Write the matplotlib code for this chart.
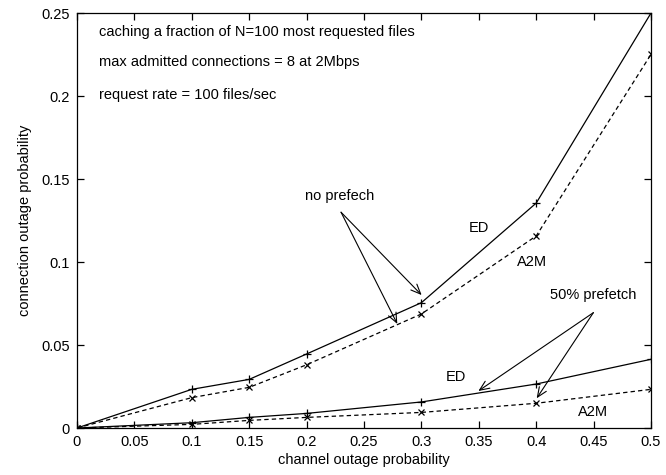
import matplotlib
matplotlib.use('Agg')
import matplotlib.pyplot as plt
from matplotlib.ticker import FuncFormatter, MultipleLocator

plt.rcParams['font.family'] = ['Liberation Sans', 'DejaVu Sans']

# channel outage probability
p_chan = [0, 0.1, 0.15, 0.2, 0.3, 0.4, 0.5]

# no prefetch
ed_noprefetch = [0, 0.0233, 0.0293, 0.0446, 0.0755, 0.1355, 0.25]
a2m_noprefetch = [0, 0.0183, 0.0245, 0.0381, 0.0687, 0.1157, 0.2251]

# 50% prefetch
ed_prefetch = [0, 0.0032, 0.0064, 0.0088, 0.0157, 0.0265, 0.0414]
a2m_prefetch = [0, 0.0022, 0.0046, 0.0064, 0.0094, 0.0149, 0.0233]

fig = plt.figure(figsize=(6.66, 4.75), dpi=100)
ax = fig.add_axes([0.1156, 0.0989, 0.8619, 0.8737])

lw = 0.9
ax.plot(p_chan, ed_noprefetch, '-', color='black', lw=lw, marker='+', ms=6, mew=0.9)
ax.plot(p_chan, a2m_noprefetch, '--', color='black', lw=lw, marker='x', ms=5, mew=0.9,
        dashes=(3.5, 2.5))
ax.plot(p_chan, ed_prefetch, '-', color='black', lw=lw, marker='+', ms=6, mew=0.9)
ax.plot(p_chan, a2m_prefetch, '--', color='black', lw=lw, marker='x', ms=5, mew=0.9,
        dashes=(3.5, 2.5))

ax.set_xlim(0, 0.5)
ax.set_ylim(0, 0.25)
ax.xaxis.set_major_locator(MultipleLocator(0.05))
ax.yaxis.set_major_locator(MultipleLocator(0.05))
fmt = FuncFormatter(lambda v, pos: '%g' % round(v, 4))
ax.xaxis.set_major_formatter(fmt)
ax.yaxis.set_major_formatter(fmt)
ax.tick_params(direction='in', length=5, width=0.9, top=True, right=True,
               labelsize=10.5, pad=5)
for s in ax.spines.values():
    s.set_linewidth(0.9)

ax.set_xlabel('channel outage probability', fontsize=10.5, labelpad=3)
ax.set_ylabel('connection outage probability', fontsize=10.5, labelpad=7)

fs = 10.5
ax.text(0.019, 0.2386, 'caching a fraction of N=100 most requested files', fontsize=fs, va='center')
ax.text(0.019, 0.2205, 'max admitted connections = 8 at 2Mbps', fontsize=fs, va='center')
ax.text(0.019, 0.2006, 'request rate = 100 files/sec', fontsize=fs, va='center')

ax.text(0.229, 0.1398, 'no prefech', fontsize=fs, ha='center', va='center')
ax.text(0.350, 0.1205, 'ED', fontsize=fs, ha='center', va='center')
ax.text(0.396, 0.100, 'A2M', fontsize=fs, ha='center', va='center')
ax.text(0.4495, 0.080, '50% prefetch', fontsize=fs, ha='center', va='center')
ax.text(0.330, 0.0305, 'ED', fontsize=fs, ha='center', va='center')
ax.text(0.4498, 0.0098, 'A2M', fontsize=fs, ha='center', va='center')

arrow = dict(arrowstyle='->,head_length=0.7,head_width=0.3', color='black', lw=0.8,
             shrinkA=0, shrinkB=0)
ax.annotate('', xy=(0.3002, 0.0801), xytext=(0.230, 0.130), arrowprops=arrow)
ax.annotate('', xy=(0.279, 0.0627), xytext=(0.230, 0.130), arrowprops=arrow)
ax.annotate('', xy=(0.3496, 0.0223), xytext=(0.4498, 0.0695), arrowprops=arrow)
ax.annotate('', xy=(0.4004, 0.0179), xytext=(0.4498, 0.0695), arrowprops=arrow)

fig.savefig('out.png', dpi=100)
